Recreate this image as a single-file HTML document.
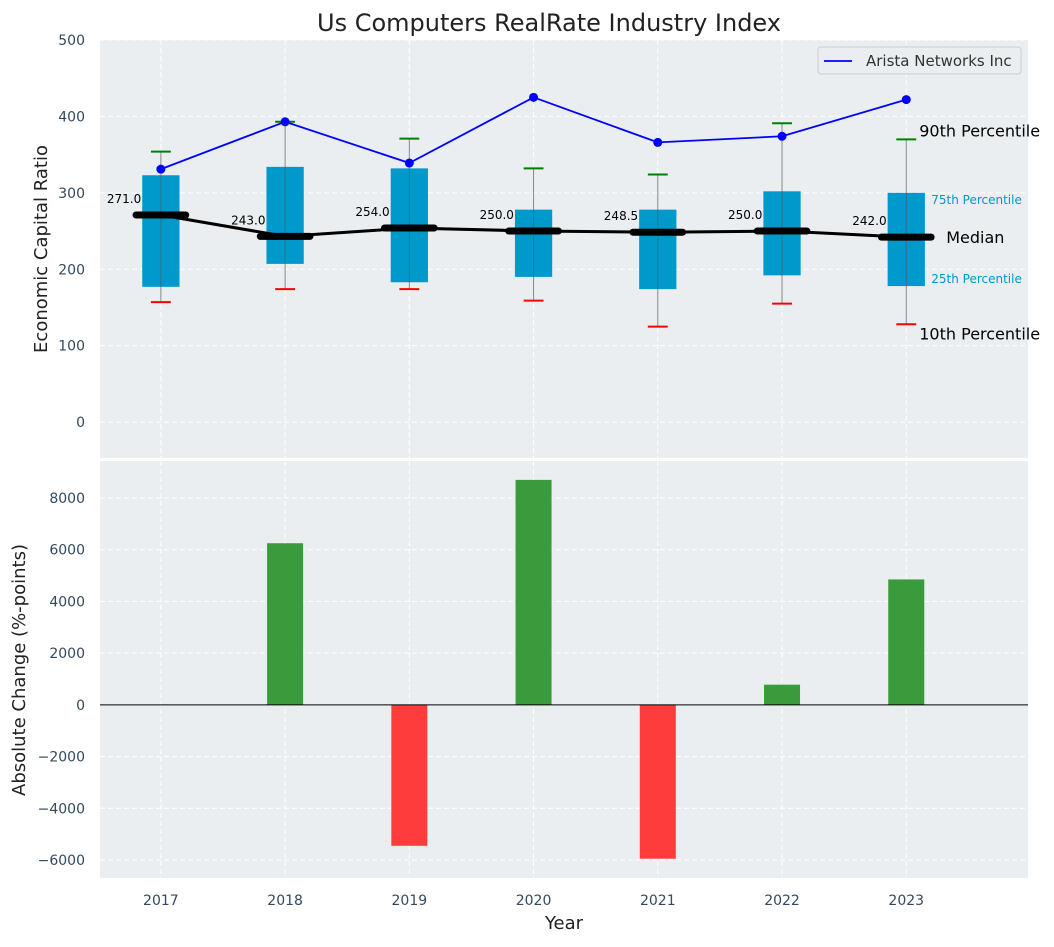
<!DOCTYPE html>
<html><head><meta charset="utf-8"><style>
body{margin:0;background:#fff;}
svg text{font-family:"DejaVu Sans","Liberation Sans",sans-serif;}
</style></head><body>
<svg id="chart" width="1054" height="942" xmlns="http://www.w3.org/2000/svg"></svg>
<script>
const years=[2017,2018,2019,2020,2021,2022,2023];
const q1=[177,207,183,190,174,192,178];
const q3=[323,334,332,278,278,302,300];
const medians=[271,243,254,250,248.5,250,242];
const p10=[157,174,174,159,125,155,128];
const p90=[354,393,371,332,324,391,370];
const arista=[331,393,339,425,366,374,422];
const changes=[0,6250,-5450,8700,-5950,780,4850];
const topTicks=[0,100,200,300,400,500];
const botTicks=[-6000,-4000,-2000,0,2000,4000,6000,8000];

const NS="http://www.w3.org/2000/svg";
const svg=document.getElementById('chart');
function el(tag,attrs,parent){const e=document.createElementNS(NS,tag);for(const k in attrs)e.setAttribute(k,attrs[k]);(parent||svg).appendChild(e);return e;}
const X0=100,X1=1028;
const xs=y=>X0+(y-2016.51)/(2023.98-2016.51)*(X1-X0);
const T0=40,T1=458,B0=461,B1=878;
const ys=v=>T1-(v-(-47))/(500-(-47))*(T1-T0);
const yb=v=>B1-(v-(-6696))/(9430-(-6696))*(B1-B0);
const TC='#34495e';

let r=el('rect',{x:X0,y:T0,width:X1-X0,height:T1-T0,fill:'#eaeef0'});

r=el('rect',{x:X0,y:B0,width:X1-X0,height:B1-B0,fill:'#eaeef0'});


years.forEach(y=>{
  el('line',{x1:xs(y),x2:xs(y),y1:T0,y2:T1,stroke:'#fff','stroke-dasharray':'5,3','stroke-width':1});
  el('line',{x1:xs(y),x2:xs(y),y1:B0,y2:B1,stroke:'#fff','stroke-dasharray':'5,3','stroke-width':1});
  let t=el('text',{x:xs(y),y:905,'text-anchor':'middle','font-size':14,fill:TC});t.textContent=y;
  
});
topTicks.forEach(v=>{
  el('line',{x1:X0,x2:X1,y1:ys(v),y2:ys(v),stroke:'#fff','stroke-dasharray':'5,3'});
  let t=el('text',{x:85,y:ys(v)+5,'text-anchor':'end','font-size':14,fill:TC});t.textContent=v;
  
});
botTicks.forEach(v=>{
  el('line',{x1:X0,x2:X1,y1:yb(v),y2:yb(v),stroke:'#fff','stroke-dasharray':'5,3'});
  let t=el('text',{x:85,y:yb(v)+5,'text-anchor':'end','font-size':14,fill:TC});t.textContent=v<0?'\u2212'+(-v):v;
  
});

const bw=0.3,cw=0.16;
years.forEach((y,i)=>{
  let w=el('line',{x1:xs(y),x2:xs(y),y1:ys(p10[i]),y2:ys(p90[i]),stroke:'#888','stroke-width':1});
  
  let b=el('rect',{x:xs(y-bw/2),y:ys(q3[i]),width:xs(y+bw/2)-xs(y-bw/2),height:ys(q1[i])-ys(q3[i]),fill:'#0099cc'});
  
  el('line',{x1:xs(y),x2:xs(y),y1:ys(q1[i]),y2:ys(q3[i]),stroke:'#555','stroke-width':1,opacity:0.6});
  let c=el('line',{x1:xs(y-cw/2),x2:xs(y+cw/2),y1:ys(p90[i]),y2:ys(p90[i]),stroke:'green','stroke-width':2});
  
  c=el('line',{x1:xs(y-cw/2),x2:xs(y+cw/2),y1:ys(p10[i]),y2:ys(p10[i]),stroke:'red','stroke-width':2});
  
});
let ml=el('polyline',{points:years.map((y,i)=>xs(y)+','+ys(medians[i])).join(' '),fill:'none',stroke:'#000','stroke-width':3});

years.forEach((y,i)=>{
  let m=el('line',{x1:xs(y-0.2),x2:xs(y+0.2),y1:ys(medians[i]),y2:ys(medians[i]),stroke:'#000','stroke-width':7,'stroke-linecap':'round'});
  
  let t=el('text',{x:xs(y-bw/2)-1,y:ys(medians[i])-12,'text-anchor':'end','font-size':12,fill:'#000'});t.textContent=medians[i].toFixed(1);
  
});
let al=el('polyline',{points:years.map((y,i)=>xs(y)+','+ys(arista[i])).join(' '),fill:'none',stroke:'blue','stroke-width':1.8});

years.forEach((y,i)=>{let p=el('circle',{cx:xs(y),cy:ys(arista[i]),r:4.5,fill:'blue'});
  });

const L=years.length-1,lx=xs(years[L]);
[['90th Percentile',lx+13,ys(p90[L])-3,16,'#000'],['75th Percentile',lx+25,ys(q3[L])+11,12,'#0099cc'],
 ['Median',lx+40,ys(medians[L])+6,16,'#000'],['25th Percentile',lx+25,ys(q1[L])-3,12,'#0099cc'],
 ['10th Percentile',lx+13,ys(p10[L])+15,16,'#000']].forEach(a=>{
  let t=el('text',{x:a[1],y:a[2],'font-size':a[3],fill:a[4]});t.textContent=a[0];
  
});

let lg=el('g',{});
el('rect',{x:818,y:47,width:203,height:27,rx:3,fill:'#eaeef0',stroke:'#ccc'},lg);
el('line',{x1:824,x2:852,y1:61,y2:61,stroke:'blue','stroke-width':1.8},lg);
let lt=el('text',{x:866,y:66,'font-size':15,fill:'#333'},lg);lt.textContent='Arista Networks Inc';

years.forEach((y,i)=>{
  const v=changes[i];
  let b=el('rect',{x:xs(y-0.145),y:Math.min(yb(v),yb(0)),width:xs(y+0.145)-xs(y-0.145),height:Math.abs(yb(v)-yb(0)),fill:v>=0?'#3a9b3c':'#ff3c3c'});
  
});
el('line',{x1:X0,x2:X1,y1:yb(0),y2:yb(0),stroke:'#000','stroke-width':1});

let t=el('text',{x:549,y:31,'text-anchor':'middle','font-size':24,fill:'#222'});t.textContent='Us Computers RealRate Industry Index';

t=el('text',{x:0,y:0,'text-anchor':'middle','font-size':18,fill:'#222',transform:'translate(47,249) rotate(-90)'});t.textContent='Economic Capital Ratio';

t=el('text',{x:0,y:0,'text-anchor':'middle','font-size':18,fill:'#222',transform:'translate(25,670) rotate(-90)'});t.textContent='Absolute Change (%-points)';

t=el('text',{x:564,y:929,'text-anchor':'middle','font-size':18,fill:'#222'});t.textContent='Year';

</script>
</body></html>
